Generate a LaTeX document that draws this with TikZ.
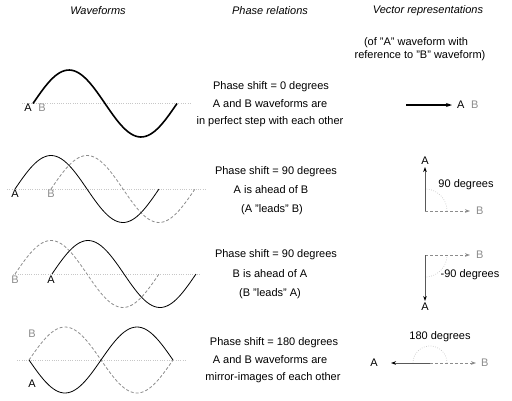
\documentclass[tikz,border=0pt]{standalone}
\usepackage{fontspec}
\setmainfont{Liberation Sans}
\usetikzlibrary{arrows.meta, positioning}
\colorlet{WAVEa}{black}
\colorlet{WAVEb}{black!45}
\colorlet{AXISgray}{black!22}
\colorlet{VECa}{black!65}

\tikzset{
  txt/.style={font=\fontsize{11}{13}\selectfont, inner sep=0pt},
  head/.style={font=\fontsize{11}{13}\selectfont\itshape, inner sep=0pt},
  lbla/.style={txt, WAVEa},
  lblb/.style={txt, WAVEb},
  wavea/.style={WAVEa, line width=0.8pt},
  waveb/.style={WAVEb, line width=0.8pt, dash pattern=on 3pt off 2pt},
  axisline/.style={AXISgray, line width=0.7pt, dash pattern=on 0.7pt off 1.6pt},
  anglearc/.style={AXISgray, line width=0.7pt, dash pattern=on 0.7pt off 1.6pt},
  veca/.style={VECa, line width=0.9pt, -{Stealth[length=5pt, width=3.6pt, black]}},
  vecb/.style={WAVEb, line width=0.9pt, dash pattern=on 3pt off 2pt, -{Stealth[length=5pt, width=3.6pt]}},
}

\begin{document}
\begin{tikzpicture}[x=1pt, y=-1pt]
  \useasboundingbox (0,0) rectangle (512,400);

  % column headings
  \node[head] (hwave) at (98,11) {Waveforms};
  \node[head] (hphase) at (270,11) {Phase relations};
  \node[head] (hvec) at (428,11) {Vector representations};
  \node[txt] (note1) at (416,43) {(of "A" waveform with};
  \node[txt] (note2) at (420,56) {reference to "B" waveform)};

  % row 1: in phase
  \draw[axisline] (22,103.5) -- (192,103.5);
  \draw[WAVEa, line width=1.6pt, domain=33:177, samples=60, variable=\t]
    plot ({\t},{103.5-33.5*sin((\t-33)*2.5)});
  \node[lbla] (w1a) at (28,108) {A};
  \node[lblb] (w1b) at (42,108) {B};
  \node[txt] (r1l1) at (271,87) {Phase shift = 0 degrees};
  \node[txt] (r1l2) at (270,104) {A and B waveforms are};
  \node[txt] (r1l3) at (270,122) {in perfect step with each other};
  \coordinate (v1o) at (406,105);
  \node[lbla, anchor=west] (v1a) at (457,105) {A};
  \node[lblb, anchor=west] (v1b) at (471,105) {B};
  \draw[black, line width=1.3pt, -{Stealth[length=6pt, width=4pt]}] (v1o) -- ([xshift=-5pt]v1a.west);

  % row 2: A leads B
  \draw[axisline] (7,189) -- (205,189);
  \draw[waveb, domain=51:195, samples=60, variable=\t]
    plot ({\t},{189-33.5*sin((\t-51)*2.5)});
  \draw[wavea, domain=15:159, samples=60, variable=\t]
    plot ({\t},{189-33.5*sin((\t-15)*2.5)});
  \node[lbla] (w2a) at (15,194) {A};
  \node[lblb] (w2b) at (51,194) {B};
  \node[txt] (r2l1) at (276,172) {Phase shift = 90 degrees};
  \node[txt] (r2l2) at (271,190) {A is ahead of B};
  \node[txt] (r2l3) at (272,210) {(A "leads" B)};
  \coordinate (v2o) at (425,211);
  \node[lbla] (v2a) at (425,161) {A};
  \node[lblb, anchor=west] (v2b) at (476,211) {B};
  \draw[anglearc, domain=0:90, samples=20, variable=\t]
    plot ({425+22*cos(\t)},{211-22*sin(\t)});
  \draw[vecb] (v2o) -- ([xshift=-6pt]v2b.west);
  \draw[veca] (v2o) -- ([yshift=-2pt]v2a.south);
  \node[txt] (v2deg) at (466,185) {90 degrees};

  % row 3: B leads A
  \draw[axisline] (13,274) -- (200,274);
  \draw[waveb, domain=15:159, samples=60, variable=\t]
    plot ({\t},{274-33.5*sin((\t-15)*2.5)});
  \draw[wavea, domain=52:196, samples=60, variable=\t]
    plot ({\t},{274-33.5*sin((\t-52)*2.5)});
  \node[lblb] (w3b) at (15,280) {B};
  \node[lbla] (w3a) at (51,280) {A};
  \node[txt] (r3l1) at (276,255) {Phase shift = 90 degrees};
  \node[txt] (r3l2) at (270,274) {B is ahead of A};
  \node[txt] (r3l3) at (270,294) {(B "leads" A)};
  \coordinate (v3o) at (425,255);
  \node[lbla] (v3a) at (425,307) {A};
  \node[lblb, anchor=west] (v3b) at (476,255) {B};
  \draw[anglearc, domain=0:90, samples=20, variable=\t]
    plot ({425+22*cos(\t)},{255+22*sin(\t)});
  \draw[vecb] (v3o) -- ([xshift=-6pt]v3b.west);
  \draw[veca] (v3o) -- ([yshift=2pt]v3a.north);
  \node[txt] (v3deg) at (470,275) {-90 degrees};

  % row 4: 180 degrees apart
  \draw[axisline] (17,360) -- (187,360);
  \draw[waveb, domain=29:173, samples=60, variable=\t]
    plot ({\t},{360-33*sin((\t-29)*2.5)});
  \draw[wavea, domain=29:173, samples=60, variable=\t]
    plot ({\t},{360+33*sin((\t-29)*2.5)});
  \node[lblb] (w4b) at (32,334) {B};
  \node[lbla] (w4a) at (32,384) {A};
  \node[txt] (r4l1) at (274,343) {Phase shift = 180 degrees};
  \node[txt] (r4l2) at (270,360) {A and B waveforms are};
  \node[txt] (r4l3) at (273,378) {mirror-images of each other};
  \coordinate (v4o) at (430,363);
  \node[lbla, anchor=east] (v4a) at (378,363) {A};
  \node[lblb, anchor=west] (v4b) at (481,363) {B};
  \draw[anglearc, domain=0:180, samples=30, variable=\t]
    plot ({430+17*cos(\t)},{363-17*sin(\t)});
  \draw[vecb] (v4o) -- ([xshift=-5pt]v4b.west);
  \draw[veca] (v4o) -- ([xshift=13pt]v4a.east);
  \node[txt] (v4deg) at (440,337) {180 degrees};
\end{tikzpicture}
\end{document}
